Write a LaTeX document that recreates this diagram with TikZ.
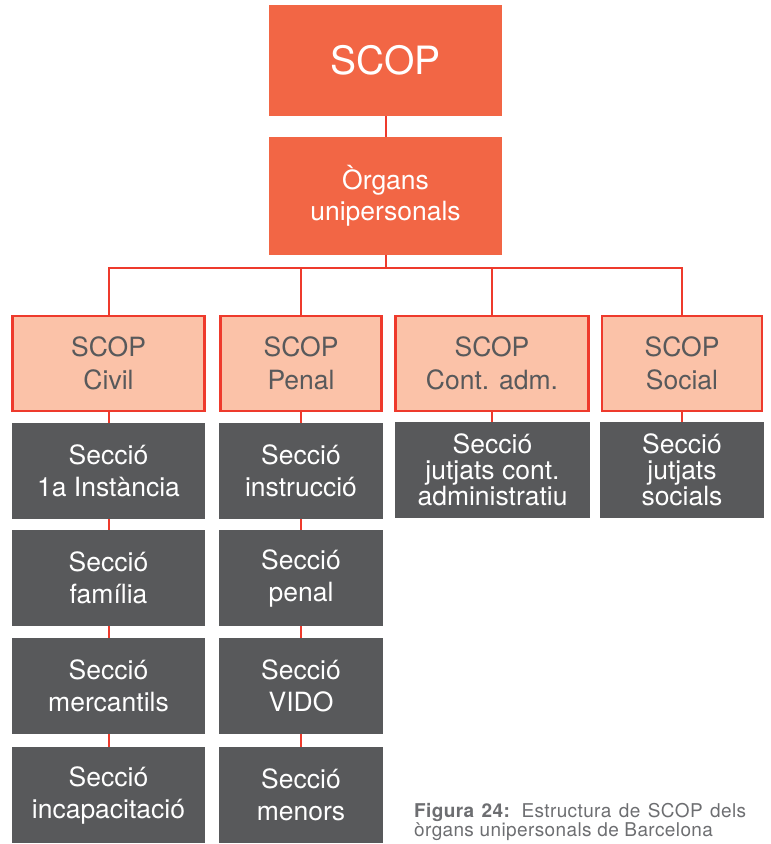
\documentclass[tikz,border=0pt]{standalone}
\usepackage{fontspec}
\setmainfont{TeX Gyre Heros}
\newfontfamily\capfont[LetterSpace=2]{TeX Gyre Heros}
\definecolor{scoporange}{HTML}{F26645}
\definecolor{linkred}{HTML}{EE3A2C}
\definecolor{salmon}{HTML}{FBC2A8}
\definecolor{darkgray}{HTML}{58595B}
\definecolor{captiongray}{HTML}{6D6E71}
\begin{document}
\begin{tikzpicture}[x=1pt,y=-1pt,
  orgbox/.style={fill=scoporange, text=white, minimum width=233pt, inner sep=0pt, align=center},
  secbox/.style={fill=salmon, draw=linkred, line width=2.6pt, text=darkgray, minimum height=95pt,
    inner sep=0pt, align=center, font=\fontsize{26.5}{33}\selectfont},
  graybox/.style={fill=darkgray, text=white, minimum height=96pt, inner sep=0pt, align=center,
    font=\fontsize{26.5}{32}\selectfont},
  tightbox/.style={graybox, font=\fontsize{26.5}{26}\selectfont},
  link/.style={draw=linkred, line width=2pt},
  captext/.style={text=captiongray, inner sep=0pt, anchor=base west, font=\capfont\fontsize{19}{20}\selectfont}]
\useasboundingbox (0,0) rectangle (771,844);

% top of the hierarchy
\node[orgbox, minimum height=111pt, font=\fontsize{39}{44}\selectfont] (scop) at (385.5,60.5) {SCOP};
\node[orgbox, minimum height=118pt, font=\fontsize{26.5}{31}\selectfont] (organs) at (385.5,196) {Òrgans\\unipersonals};
\coordinate (bus) at (385.5,268);

% jurisdictional services
\node[secbox, minimum width=192pt] (civil) at (108.5,363.5) {SCOP\\Civil};
\node[secbox, minimum width=161pt] (penal) at (301,363.5) {SCOP\\Penal};
\node[secbox, minimum width=193pt] (contadm) at (492,363.5) {SCOP\\Cont. adm.};
\node[secbox, minimum width=160pt] (social) at (682,363.5) {SCOP\\Social};

% sections: civil
\node[graybox, minimum width=193pt] (c1) at (108.5,471) {Secció\\1a Instància};
\node[graybox, minimum width=193pt] (c2) at (108.5,578) {Secció\\família};
\node[graybox, minimum width=193pt] (c3) at (108.5,686) {Secció\\mercantils};
\node[graybox, minimum width=193pt] (c4) at (108.5,795) {Secció\\incapacitació};

% sections: penal
\node[graybox, minimum width=164pt] (p1) at (301,471) {Secció\\instrucció};
\node[graybox, minimum width=164pt] (p2) at (301,578) {Secció\\penal};
\node[graybox, minimum width=164pt] (p3) at (301,686) {Secció\\VIDO};
\node[graybox, minimum width=164pt] (p4) at (301,795) {Secció\\menors};

% sections: administrative and social
\node[tightbox, minimum width=195pt] (a1) at (492.5,470) {Secció\\jutjats cont.\\administratiu};
\node[tightbox, minimum width=164pt] (s1) at (682,470) {Secció\\jutjats\\socials};

% connectors
\draw[link] (scop) -- (organs);
\draw[link] (organs) -- (bus);
\draw[link] (civil.north) |- (bus);
\draw[link] (penal.north) |- (bus);
\draw[link] (contadm.north) |- (bus);
\draw[link] (social.north) |- (bus);
\draw[link] (civil.south) -- (c1.north -| civil.south);
\draw[link] (penal.south) -- (p1.north -| penal.south);
\draw[link] (contadm.south) -- (a1.north -| contadm.south);
\draw[link] (social.south) -- (s1.north -| social.south);
\draw[link] (c1) -- (c2);
\draw[link] (c2) -- (c3);
\draw[link] (c3) -- (c4);
\draw[link] (p1) -- (p2);
\draw[link] (p2) -- (p3);
\draw[link] (p3) -- (p4);

% caption
\node[captext] (cap1) at (414,817) {\makebox[332pt][s]{\textbf{Figura 24:} Estructura de SCOP dels}};
\node[captext] (cap2) at (414,836.5) {òrgans unipersonals de Barcelona};
\end{tikzpicture}
\end{document}
